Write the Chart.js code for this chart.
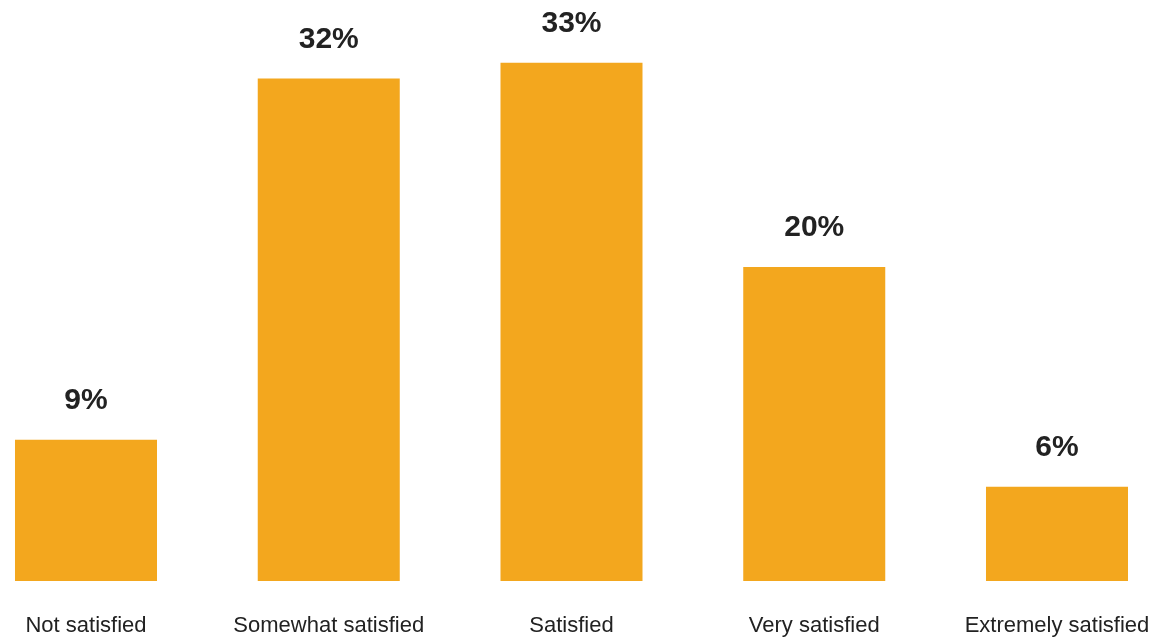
<!DOCTYPE html>
<html lang="en">
  <head>
    <meta charset="UTF-8" />
    <title>Satisfaction</title>
    <script src="https://cdn.jsdelivr.net/npm/chart.js"></script>
    <style>
      html,
      body {
        margin: 0;
        padding: 0;
        overflow: hidden;
        background: #fff;
      }
      .chart-box {
        position: relative;
        width: 1154px;
        height: 640px;
      }
      canvas {
        display: block;
      }
    </style>
  </head>
  <body>
    <div class="chart-box">
      <canvas id="satisfactionChart"></canvas>
    </div>

    <script>
      const categories = [
        "Not satisfied",
        "Somewhat satisfied",
        "Satisfied",
        "Very satisfied",
        "Extremely satisfied",
      ];
      const shares = [9, 32, 33, 20, 6];

      // value labels above each bar
      const valueLabels = {
        id: "valueLabels",
        afterDatasetsDraw(chart) {
          const ctx = chart.ctx;
          const meta = chart.getDatasetMeta(0);
          ctx.save();
          ctx.font = "bold 30px 'Liberation Sans', Arial, sans-serif";
          ctx.fillStyle = "#222222";
          ctx.textAlign = "center";
          ctx.textBaseline = "alphabetic";
          meta.data.forEach((bar, i) => {
            ctx.fillText(shares[i] + "%", bar.x, bar.y - 31);
          });
          ctx.restore();
        },
      };

      new Chart(document.getElementById("satisfactionChart"), {
        type: "bar",
        data: {
          labels: categories,
          datasets: [
            {
              data: shares,
              backgroundColor: "#F3A71E",
              borderWidth: 0,
              barPercentage: 0.585,
              categoryPercentage: 1,
              clip: false,
            },
          ],
        },
        options: {
          responsive: true,
          maintainAspectRatio: false,
          animation: false,
          layout: {
            padding: { left: 86, right: 97, top: 0, bottom: 0 },
          },
          plugins: {
            legend: { display: false },
            tooltip: { enabled: false },
          },
          scales: {
            x: {
              offset: false,
              border: { display: false },
              grid: { display: false, drawTicks: false },
              ticks: {
                padding: 32,
                maxRotation: 0,
                minRotation: 0,
                autoSkip: false,
                color: "#222222",
                font: { family: "'Liberation Sans', Arial, sans-serif", size: 22 },
              },
              // keep the axis band fixed and let layout padding set the edges
              afterFit(scale) {
                scale.height = 59;
                scale.paddingLeft = 0;
                scale.paddingRight = 0;
              },
            },
            y: {
              display: false,
              min: 0,
              max: 37,
            },
          },
        },
        plugins: [valueLabels],
      });
    </script>
  </body>
</html>
